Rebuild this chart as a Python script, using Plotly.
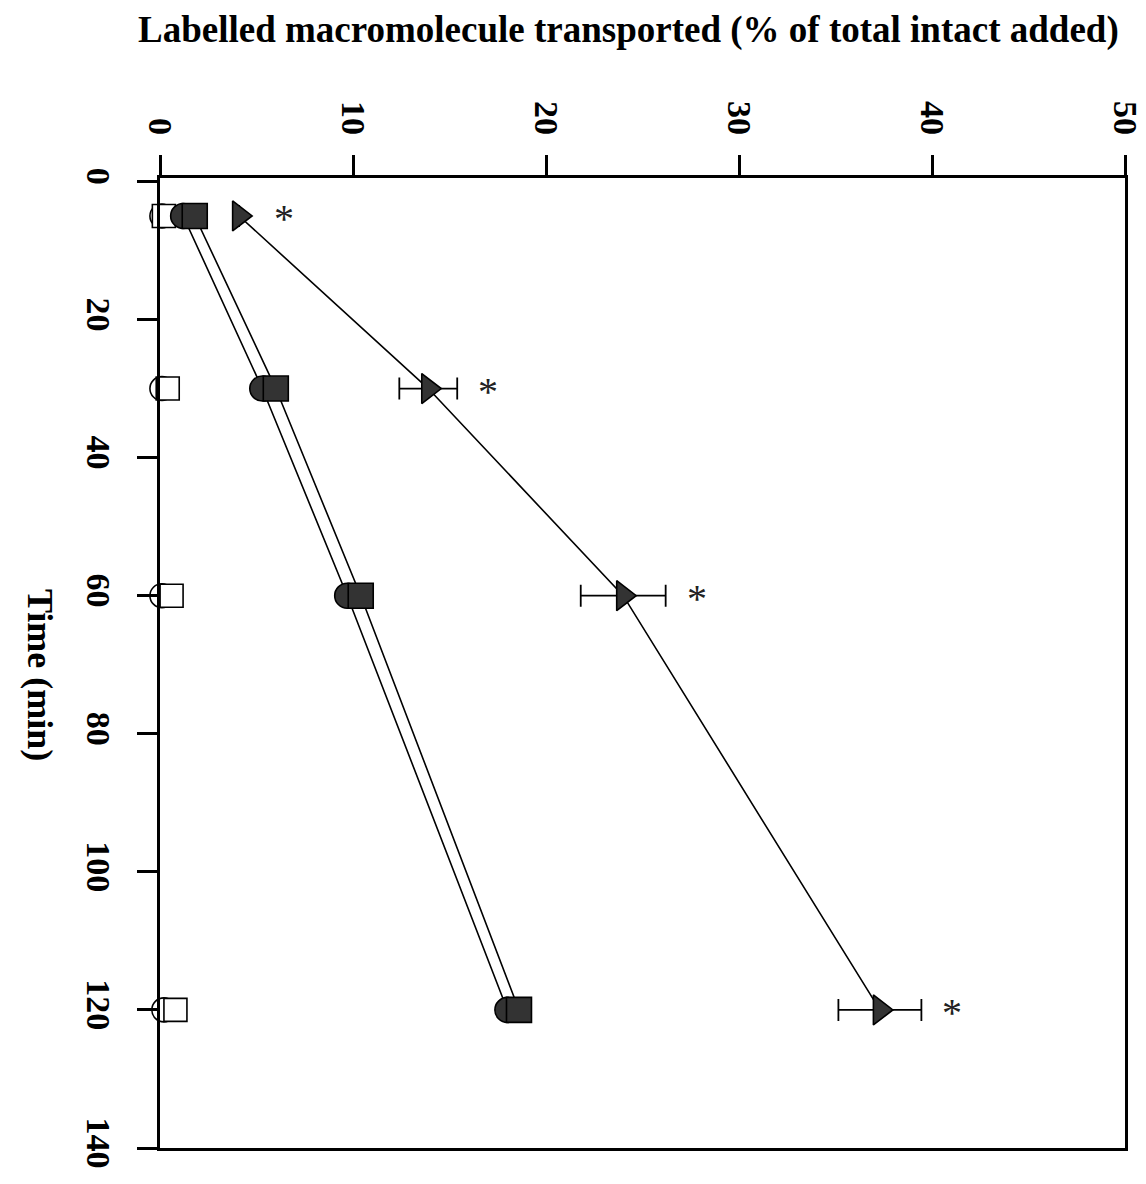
import plotly.graph_objects as go

time_min = [5, 30, 60, 120]
open_circle = [0.1, 0.1, 0.1, 0.2]
open_square = [0.2, 0.4, 0.6, 0.8]
filled_circle = [1.2, 5.3, 9.7, 18.0]
filled_square = [1.8, 6.0, 10.4, 18.6]
triangle = [4.1, 13.9, 24.0, 37.3]
triangle_err = [0.0, 1.5, 2.2, 2.15]
sig_marks = ["*", "*", "*", "*"]

x_ticks = [0, 10, 20, 30, 40, 50]
y_ticks = [0, 20, 40, 60, 80, 100, 120, 140]

FONT = "Liberation Serif"
DARK = "#333333"

fig = go.Figure()

def add(xv, sym, fill, size, err=None, mode="lines+markers"):
    fig.add_trace(go.Scatter(
        x=xv, y=time_min, mode=mode,
        line=dict(color="black", width=1.6),
        marker=dict(symbol=sym, size=size, color=fill,
                    line=dict(color="black", width=1.6)),
        error_x=(dict(type="data", array=err, visible=True, color="black",
                      thickness=1.8, width=11) if err else None),
        showlegend=False, cliponaxis=False,
    ))

add(open_circle, "circle", "white", 24, mode="markers")
add(open_square, "square", "white", 23, mode="markers")
add(filled_circle, "circle", DARK, 25)
add(filled_square, "square", DARK, 25)
add(triangle, "triangle-right", DARK, 26, triangle_err)

sig_x = [t + max(e, 0.7) + 1.6 for t, e in zip(triangle, triangle_err)]
sig_annotations = [
    dict(text=s, x=xv, y=yv, xref="x", yref="y", showarrow=False,
         xanchor="center", yanchor="middle", yshift=-3,
         font=dict(family=FONT, size=40, color="#222"))
    for s, xv, yv in zip(sig_marks, sig_x, time_min)
]

axis_common = dict(
    showline=True, mirror=True, linecolor="black", linewidth=3,
    ticks="outside", ticklen=20, tickwidth=2.5, tickcolor="black",
    showgrid=False, zeroline=False, automargin=False,
    tickfont=dict(family=FONT, size=34, color="black", weight="bold"),
)

fig.update_layout(
    width=1146, height=1184,
    margin=dict(l=160, r=21, t=178, b=36),
    plot_bgcolor="white", paper_bgcolor="white",
    xaxis=dict(range=[0, 50], side="top", tickvals=x_ticks, tickangle=90,
               ticklabelstandoff=8, **axis_common),
    yaxis=dict(range=[140, -0.5], tickvals=y_ticks, tickangle=90,
               ticklabelstandoff=9, **axis_common),
    annotations=[
        dict(text="Labelled macromolecule transported (% of total intact added)",
             xref="paper", yref="paper", x=0.485, y=1, yshift=148,
             xanchor="center", yanchor="middle", showarrow=False,
             font=dict(family=FONT, size=37, color="black", weight="bold")),
        dict(text="Time (min)", textangle=90,
             xref="paper", yref="paper", x=0, y=0.5, xshift=-120, yshift=-12,
             xanchor="center", yanchor="middle", showarrow=False,
             font=dict(family=FONT, size=36, color="black", weight="bold")),
    ] + sig_annotations,
)

fig.write_html("out.html")
